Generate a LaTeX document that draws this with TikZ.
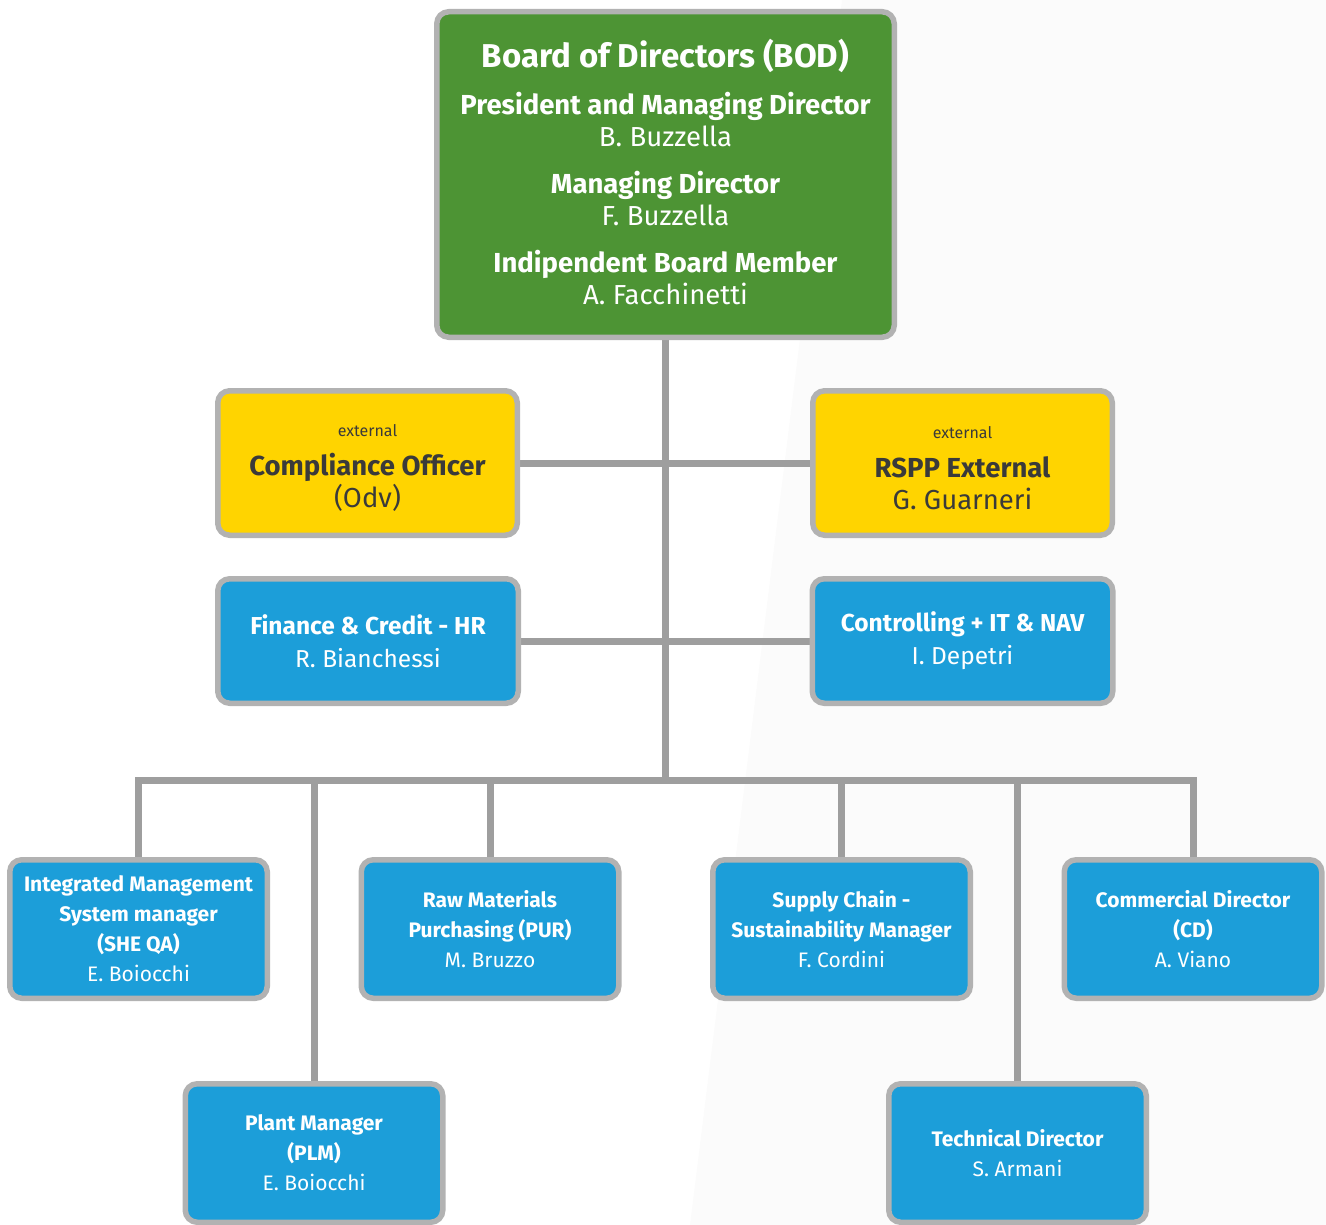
\documentclass[tikz,border=0pt]{standalone}
\usepackage{fontspec}
\setmainfont{Fira Sans}
\usepackage{xcolor}
\usepackage{tikz}
\usetikzlibrary{positioning, backgrounds}
\definecolor{bodgreen}{RGB}{77,148,52}
\definecolor{extyellow}{RGB}{255,212,0}
\definecolor{deptblue}{RGB}{28,158,217}
\definecolor{linegray}{RGB}{158,158,158}
\definecolor{framegray}{RGB}{178,178,178}
\definecolor{txtdark}{RGB}{58,58,58}
\definecolor{bgshade}{RGB}{251,251,251}
\tikzset{
  box/.style={rectangle, draw=framegray, line width=5.5pt,
    rounded corners=12pt, align=center, inner sep=0pt},
  bodbox/.style={box, fill=bodgreen, text=white,
    minimum width=457.5pt, minimum height=325.5pt,
    font=\fontsize{27.5}{32}\selectfont},
  extbox/.style={box, fill=extyellow, text=txtdark,
    minimum width=299.5pt, minimum height=144.5pt,
    font=\fontsize{27.5}{32}\selectfont},
  deptbox/.style={box, fill=deptblue, text=white,
    minimum width=300.5pt, minimum height=124.5pt,
    font=\fontsize{24.5}{33}\selectfont},
  unitbox/.style={box, fill=deptblue, text=white,
    minimum width=257.5pt, minimum height=138.5pt,
    font=\fontsize{21}{30}\selectfont},
  link/.style={draw=linegray, line width=7pt}
}

\begin{document}
\begin{tikzpicture}[x=1pt, y=-1pt]
  \useasboundingbox (0,0) rectangle (1326,1225);
  \clip (0,0) rectangle (1326,1225);

  % Board
  \node[bodbox] (bod) at (665.5,174.5) {%
    {\fontsize{33}{33}\selectfont\bfseries Board of Directors (BOD)}\\[15pt]
    {\bfseries President and Managing Director}\\ B. Buzzella\\[15pt]
    {\bfseries Managing Director}\\ F. Buzzella\\[15pt]
    {\bfseries Indipendent Board Member}\\ A. Facchinetti\\[-26pt]\mbox{}};

  % External roles
  \node[extbox] (odv) at (367.5,463) {\rule{0pt}{22pt}%
    {\fontsize{16}{16}\selectfont external}\\[7pt]
    {\bfseries Compliance Officer}\\ (Odv)};
  \node[extbox] (rspp) at (962.5,463) {\rule{0pt}{22pt}%
    {\fontsize{16}{16}\selectfont external}\\[7pt]
    {\bfseries RSPP External}\\ G. Guarneri};

  % Staff functions
  \node[deptbox] (fin) at (368,641) {{\bfseries Finance \& Credit - HR}\\ R. Bianchessi};
  \node[deptbox] (ctrl) at (962.5,641) {{\bfseries Controlling + IT \& NAV}\\ I. Depetri};

  % Line functions
  \node[unitbox] (ims) at (138.5,929) {{\bfseries Integrated Management}\\
    {\bfseries System manager}\\ {\bfseries (SHE QA)}\\ E. Boiocchi};
  \node[unitbox] (pur) at (490,929) {{\bfseries Raw Materials}\\
    {\bfseries Purchasing (PUR)}\\ M. Bruzzo};
  \node[unitbox] (scm) at (841.5,929) {{\bfseries Supply Chain -}\\
    {\bfseries Sustainability Manager}\\ F. Cordini};
  \node[unitbox] (cd) at (1193,929) {{\bfseries Commercial Director}\\
    {\bfseries (CD)}\\ A. Viano};
  \node[unitbox] (plm) at (314,1153) {{\bfseries Plant Manager}\\
    {\bfseries (PLM)}\\ E. Boiocchi};
  \node[unitbox] (td) at (1017.5,1153) {{\bfseries Technical Director}\\ S. Armani};

  \begin{scope}[on background layer]
    % light shade on the right
    \fill[bgshade] (842,0) -- (1326,0) -- (1326,1225) -- (690,1225) -- cycle;

    % Connectors
    \coordinate (bus) at (665,780);
    \draw[link] (bod.south -| bus) -- (bus);
    \draw[link] (odv.east) -- (rspp.west);
    \draw[link] (fin.east) -- (ctrl.west);
    \draw[link] (ims.north) -- (ims.north |- bus) -- (cd.north |- bus) -- (cd.north);
    \draw[link] (plm.north) -- (plm.north |- bus);
    \draw[link] (pur.north) -- (pur.north |- bus);
    \draw[link] (scm.north) -- (scm.north |- bus);
    \draw[link] (td.north) -- (td.north |- bus);
  \end{scope}
\end{tikzpicture}
\end{document}
